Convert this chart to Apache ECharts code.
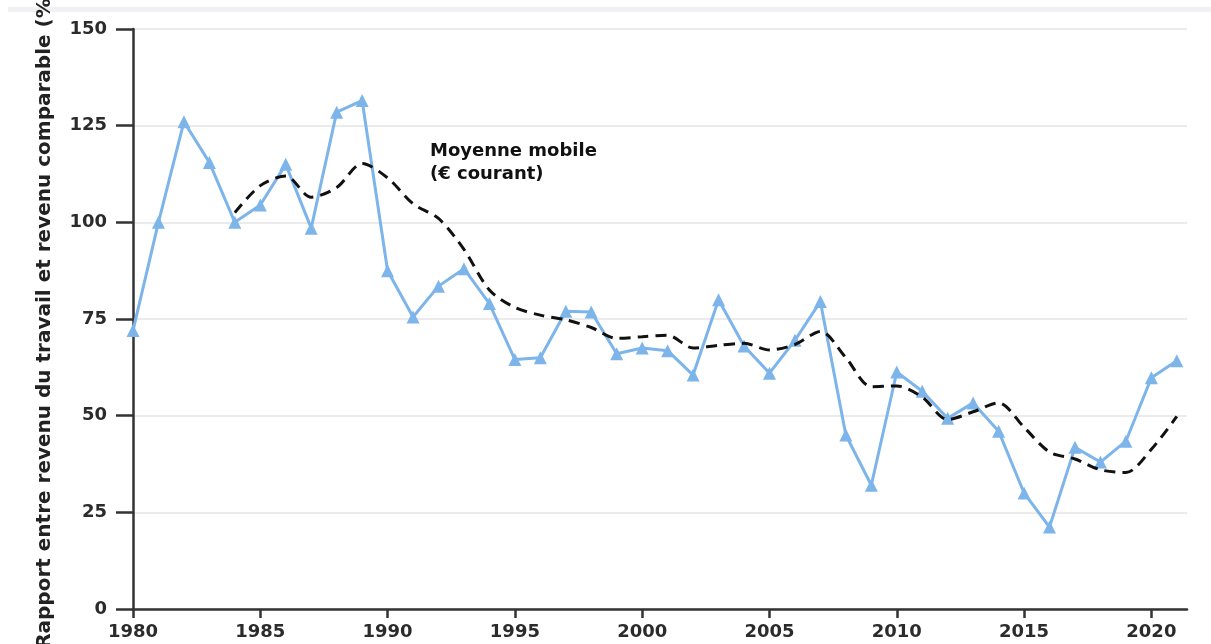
<!DOCTYPE html>
<html>
<head>
<meta charset="utf-8">
<script src="https://cdn.jsdelivr.net/npm/echarts@6/dist/echarts.min.js"></script>
<style>
  html, body { margin: 0; padding: 0; background: #fff; }
  #main { width: 1211px; height: 644px; }
</style>
</head>
<body>
<div id="main"></div>
<script>
// années 1980 -> 2021
const years = [
  1980, 1981, 1982, 1983, 1984, 1985, 1986, 1987, 1988, 1989,
  1990, 1991, 1992, 1993, 1994, 1995, 1996, 1997, 1998, 1999,
  2000, 2001, 2002, 2003, 2004, 2005, 2006, 2007, 2008, 2009,
  2010, 2011, 2012, 2013, 2014, 2015, 2016, 2017, 2018, 2019,
  2020, 2021
]
// rapport annuel (%)
const ratio = [
  72, 100, 126, 115.5, 100, 104.5, 115, 98.5, 128.5, 131.5,
  87.5, 75.5, 83.5, 88, 79, 64.5, 65, 77, 76.8, 66,
  67.5, 66.8, 60.5, 80, 68, 61, 69.5, 79.5, 45, 32,
  61.3, 56.3, 49.3, 53.3, 46, 30, 21.2, 41.8, 38, 43.4,
  59.8, 64.2
]
// moyenne mobile, à partir de 1984
const maYears = years.slice(4)
const movingAvg = [
  102.5, 109.5, 112, 106.5, 109, 115.2,
  111.5, 104.8, 101, 93, 82.5, 78, 76, 74.8, 72.8, 70,
  70.4, 70.8, 67.5, 68.2, 68.7, 67, 68.4, 71.8, 65, 57.5,
  57.7, 54.8, 49, 51, 53.3, 47, 40.6, 38.8, 36, 35.3,
  41.3, 49.8
]
const xTicks = [1980, 1985, 1990, 1995, 2000, 2005, 2010, 2015, 2020]

const chart = echarts.init(document.getElementById('main'))

const fontFamily = 'DejaVu Sans'
const option = {
  animation: false,
  backgroundColor: '#fff',
  graphic: [
    {
      type: 'rect',
      shape: { x: 8, y: 7, width: 1203, height: 5 },
      style: { fill: '#f1f1f4' },
      silent: true,
    },
    {
      type: 'text',
      left: 430,
      top: 140,
      z: 100,
      style: {
        text: 'Moyenne mobile\n(€ courant)',
        font: 'bold 18px "DejaVu Sans"',
        fill: '#111',
        lineHeight: 23,
      },
    },
  ],
  grid: {
    left: 133,
    right: 24,
    top: 29,
    bottom: 35,
    containLabel: false,
    outerBoundsMode: 'none',
  },
  xAxis: {
    type: 'value',
    min: 1980,
    max: 2021.4,
    axisLine: {
      show: true,
      lineStyle: { color: '#333', width: 2.5 },
    },
    axisTick: {
      show: true,
      length: 9,
      customValues: xTicks,
      lineStyle: { color: '#333', width: 2.5 },
    },
    axisLabel: {
      customValues: xTicks,
      formatter: (v) => String(v),
      margin: 14,
      color: '#2b2b2b',
      fontFamily: fontFamily,
      fontWeight: 'bold',
      fontSize: 18,
    },
    splitLine: { show: false },
  },
  yAxis: {
    type: 'value',
    min: 0,
    max: 150,
    interval: 25,
    name: 'Rapport entre revenu du travail et revenu comparable (%)',
    nameLocation: 'middle',
    nameGap: 78,
    nameTextStyle: {
      color: '#222',
      fontFamily: fontFamily,
      fontWeight: 'bold',
      fontSize: 20,
    },
    axisLine: {
      show: true,
      lineStyle: { color: '#333', width: 2.5 },
    },
    axisTick: {
      show: true,
      length: 17,
      lineStyle: { color: '#333', width: 2.5 },
    },
    axisLabel: {
      margin: 26,
      color: '#2b2b2b',
      fontFamily: fontFamily,
      fontWeight: 'bold',
      fontSize: 18,
    },
    splitLine: {
      show: true,
      lineStyle: { color: '#e4e4e4', width: 1.5 },
    },
  },
  series: [
    {
      name: 'Rapport',
      type: 'line',
      data: years.map((y, i) => [y, ratio[i]]),
      symbol: 'triangle',
      symbolSize: 13,
      showAllSymbol: true,
      lineStyle: { color: '#7db5ea', width: 3 },
      itemStyle: { color: '#7db5ea' },
      z: 2,
    },
    {
      name: 'Moyenne mobile',
      type: 'line',
      data: maYears.map((y, i) => [y, movingAvg[i]]),
      symbol: 'none',
      smooth: 0.3,
      lineStyle: { color: '#111', width: 3, type: [11, 7] },
      z: 3,
    },
  ],
}

chart.setOption(option)
</script>
</body>
</html>
